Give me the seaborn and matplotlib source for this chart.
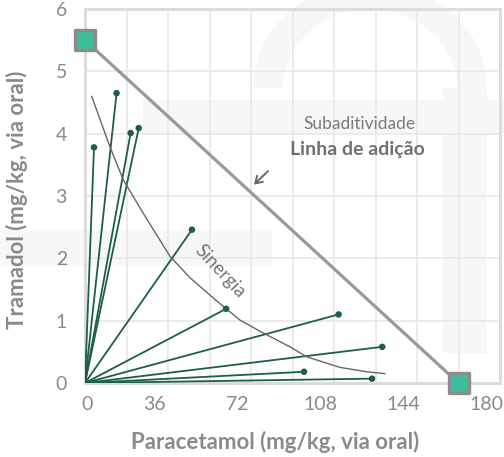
import pandas as pd
import seaborn as sns
import matplotlib.pyplot as plt
from matplotlib.patches import Rectangle, Wedge
from matplotlib.transforms import offset_copy

# doses combinadas (mg/kg, via oral)
paracetamol = [3.9, 13.7, 19.8, 23.3, 46.4, 61.2, 110.0, 128.9, 95.0, 124.5]
tramadol = [3.78, 4.65, 4.01, 4.09, 2.46, 1.19, 1.10, 0.58, 0.18, 0.07]

# DE50 isolados (extremos da linha de adição)
linha_x = [0, 162]
linha_y = [5.5, 0]

# curva de sinergia
sinergia_x = [2.9, 10.8, 16.6, 25.3, 36.9, 45.5, 57.0, 67.2, 75.9, 88.9, 96.2, 110.6, 122.2, 130.1]
sinergia_y = [4.60, 3.79, 3.26, 2.72, 2.03, 1.69, 1.32, 1.01, 0.83, 0.58, 0.42, 0.25, 0.18, 0.15]

xticks = [0, 36, 72, 108, 144, 180]
yticks = [0, 1, 2, 3, 4, 5, 6]

verde = '#1d5e4b'
cinza = '#8a8a8a'

sns.set_theme(style='white')
plt.rcParams['font.family'] = ['Lato', 'DejaVu Sans']

raios = []
for i, (px, ty) in enumerate(zip(paracetamol, tramadol)):
    raios.append({'id': i, 'x': 0, 'y': 0})
    raios.append({'id': i, 'x': px, 'y': ty})
raios = pd.DataFrame(raios)

fig = plt.figure(figsize=(5.04, 4.57), dpi=100)

# marca d'água clara ao fundo
wm = '#f7f7f8'
for p in [
    Rectangle((143 / 504, 1 - 133 / 457), 361 / 504, 33 / 457),
    Rectangle((0, 1 - 266 / 457), 272 / 504, 36 / 457),
    Rectangle((443 / 504, 1 - 353 / 457), 44 / 504, 265 / 457),
    Wedge((370 / 504, 1 - 88 / 457), 117 / 504, 0, 180, width=30 / 504),
]:
    p.set_transform(fig.transFigure)
    p.set_facecolor(wm)
    p.set_edgecolor('none')
    p.set_zorder(-5)
    fig.patches.append(p)

ax = fig.add_axes([85 / 504, 1 - 383 / 457, 415 / 504, 374 / 457])
ax.set_facecolor('none')

sns.lineplot(data=raios, x='x', y='y', units='id', estimator=None, sort=False,
             color=verde, lw=1.3, ax=ax, zorder=3)
sns.scatterplot(x=paracetamol, y=tramadol, color=verde, s=22, edgecolor='none',
                ax=ax, zorder=4)
sns.lineplot(x=sinergia_x, y=sinergia_y, sort=False, color='#666666', lw=1.0,
             ax=ax, zorder=3)
sns.lineplot(x=linha_x, y=linha_y, color='#999999', lw=2.3, ax=ax, zorder=5)
sns.scatterplot(x=linha_x, y=linha_y, marker='s', s=210, color='#3dbf9b',
                edgecolor='#8c8c8c', linewidth=2.4, ax=ax, zorder=6, clip_on=False)

ax.set_xlim(0, 180)
ax.set_ylim(0, 6)
ax.set_xticks(xticks)
ax.set_xticks(range(18, 180, 36), minor=True)
ax.set_yticks(yticks)
ax.grid(True, which='both', color='#e8e8e8', lw=1.2)
ax.set_axisbelow(True)
for s in ax.spines.values():
    s.set_color('#dcdcdc')
    s.set_linewidth(2.2)
ax.tick_params(which='both', length=0, labelsize=14, labelcolor=cinza)
ax.tick_params(axis='x', pad=9)
ax.tick_params(axis='y', pad=13)
for k, lab in enumerate(ax.get_xticklabels()):
    dx = 2 if k == 0 else -14
    lab.set_transform(offset_copy(lab.get_transform(), fig=fig, x=dx, units='dots'))

ax.set_xlabel('Paracetamol (mg/kg, via oral)', fontsize=16, fontweight='bold',
              color=cinza)
ax.set_ylabel('Tramadol (mg/kg, via oral)', fontsize=16, fontweight='bold',
              color=cinza)
ax.xaxis.set_label_coords(0.458, -0.128)
ax.yaxis.set_label_coords(-0.137, 0.49)

ax.text(58.5, 1.80, 'Sinergia', rotation=-47, ha='center', va='center',
        fontsize=13.5, color='#777777')
ax.text(118.9, 4.15, 'Subaditividade', ha='center', va='center', fontsize=12.5,
        color='#7a7a7a')
ax.text(118.0, 3.75, 'Linha de adição', ha='center', va='center', fontsize=14,
        fontweight='bold', color='#707070')
ax.annotate('', xy=(72.4, 3.15), xytext=(80.2, 3.43),
            arrowprops=dict(arrowstyle='->,head_length=0.4,head_width=0.25',
                            color='#666666', lw=1.4))

fig.savefig('out.png', dpi=100)
plt.close()
